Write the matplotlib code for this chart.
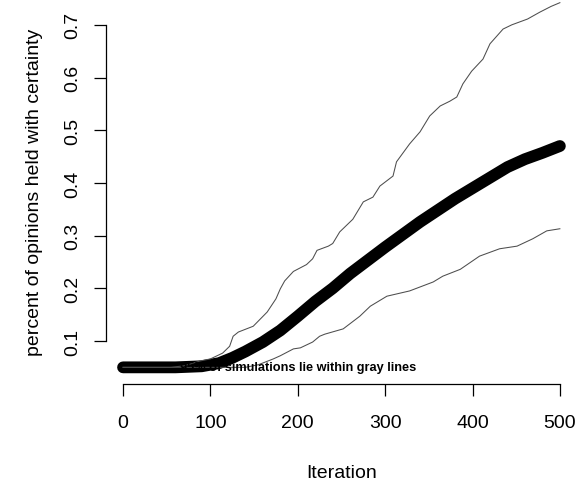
import matplotlib
matplotlib.use("Agg")
import matplotlib.pyplot as plt

plt.rcParams['font.family'] = ['Liberation Sans', 'DejaVu Sans']

# mean curve
mean_iter = [0, 60, 90, 110, 125, 140, 160, 180, 200, 220, 240, 260, 280, 300,
             320, 340, 360, 380, 400, 420, 440, 460, 480, 500]
mean_val = [0.050, 0.050, 0.052, 0.058, 0.068, 0.080, 0.098, 0.120, 0.147, 0.175,
            0.200, 0.228, 0.253, 0.278, 0.302, 0.326, 0.348, 0.370, 0.390, 0.410,
            0.430, 0.445, 0.457, 0.470]

# upper 95% bound
upper_iter = [0, 55, 70, 88, 100, 114, 122, 126, 132, 149, 165, 175, 180, 185, 195,
              210, 217, 222, 235, 240, 248, 263, 275, 286, 294, 309, 313, 328, 340,
              351, 363, 374, 382, 389, 399, 412, 420, 435, 445, 463, 477, 490, 500]
upper_val = [0.050, 0.050, 0.053, 0.062, 0.066, 0.077, 0.090, 0.109, 0.117, 0.128,
             0.155, 0.180, 0.199, 0.214, 0.232, 0.245, 0.256, 0.272, 0.280, 0.285,
             0.307, 0.331, 0.364, 0.373, 0.394, 0.413, 0.440, 0.474, 0.497, 0.527,
             0.546, 0.555, 0.563, 0.588, 0.612, 0.635, 0.664, 0.692, 0.700, 0.711,
             0.724, 0.735, 0.742]

# lower 95% bound
lower_iter = [0, 140, 155, 172, 180, 195, 203, 217, 225, 231, 252, 271, 283, 302,
              328, 355, 366, 386, 408, 431, 451, 469, 485, 500]
lower_val = [0.050, 0.050, 0.055, 0.066, 0.072, 0.085, 0.087, 0.098, 0.109, 0.113,
             0.123, 0.147, 0.166, 0.185, 0.195, 0.212, 0.223, 0.236, 0.261, 0.275,
             0.280, 0.294, 0.309, 0.313]

x_ticks = [0, 100, 200, 300, 400, 500]
y_ticks = [0.1, 0.2, 0.3, 0.4, 0.5, 0.6, 0.7]

fig = plt.figure(figsize=(5.82, 4.89), dpi=100)
ax = fig.add_axes([0.1814, 0.2127, 0.992 - 0.1814, 1.0 - 0.2127])

ax.plot(mean_iter, mean_val, color='black', lw=8.5, solid_capstyle='round',
        solid_joinstyle='round', zorder=2)
ax.plot(upper_iter, upper_val, color='#4d4d4d', lw=0.75, zorder=3)
ax.plot(lower_iter, lower_val, color='#4d4d4d', lw=0.75, zorder=3)
ax.text(200, 0.05, '95% of simulations lie within gray lines', ha='center',
        va='center', fontsize=9.2, fontweight='bold', color='black', zorder=4)

ax.set_xlim(-20, 520)
ax.set_ylim(0.0184, 0.749)

for s in ['top', 'right']:
    ax.spines[s].set_visible(False)
ax.spines['bottom'].set_bounds(0, 500)
ax.spines['left'].set_bounds(0.1, 0.7)
ax.spines['bottom'].set_linewidth(0.9)
ax.spines['left'].set_linewidth(0.9)

ax.set_xticks(x_ticks)
ax.set_xticklabels([str(t) for t in x_ticks])
ax.set_yticks(y_ticks)
ax.set_yticklabels([f'{t:.1f}' for t in y_ticks], rotation=90, va='center')
ax.tick_params(axis='x', length=8.6, width=0.9, labelsize=14, pad=13)
ax.tick_params(axis='y', length=8.6, width=0.9, labelsize=14, pad=9)

ax.set_xlabel('Iteration', fontsize=14, labelpad=24)
ax.set_ylabel('percent of opinions held with certainty', fontsize=14, labelpad=15)
ax.patch.set_visible(False)

fig.savefig('out.png', dpi=100)
